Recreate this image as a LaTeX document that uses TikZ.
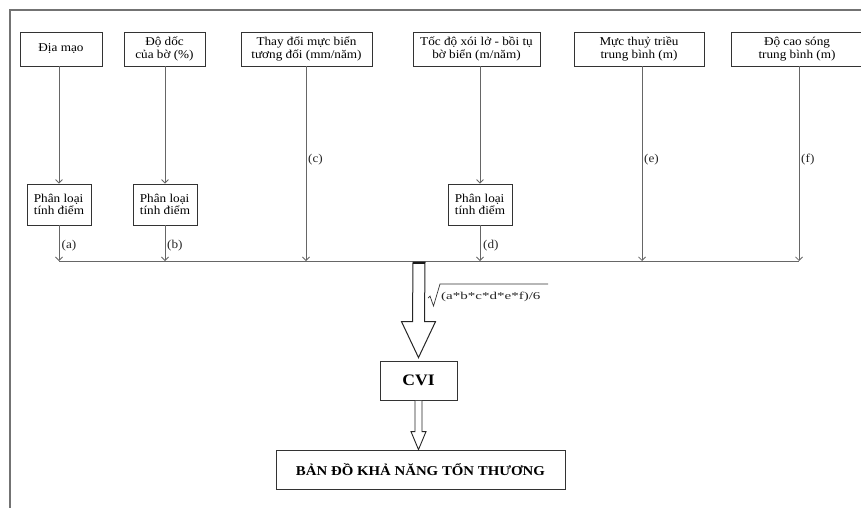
\documentclass[tikz,border=0pt]{standalone}
\usepackage{fontspec}
\setmainfont[FakeStretch=1.1]{Liberation Serif}
\usetikzlibrary{arrows.meta,calc}
\begin{document}
\begin{tikzpicture}[x=1pt,y=-1pt]
\tikzset{
 box/.style={draw=black!80, line width=0.8pt, fill=white, align=center, inner sep=2pt, font=\fontsize{12}{12.5}\selectfont},
 topbox/.style={box, minimum height=34pt},
 pbox/.style={box, align=left, minimum width=64pt, minimum height=41pt},
 conn/.style={draw=black!60, line width=0.8pt},
 arr/.style={conn, -{Straight Barb[length=3.5pt,width=7pt]}},
 lbl/.style={font=\fontsize{12}{12}\selectfont, inner sep=0pt, anchor=west, text=black!85},
 hollow/.style={draw=black!85, line width=1pt, fill=white, line join=miter},
 frameline/.style={draw=black!55, line width=1.5pt}
}
\useasboundingbox (0,0) rectangle (861,507);
\draw[frameline] (10,508) -- (10,10) -- (862,10);

% top boxes
\node[topbox, minimum width=82pt]  (t1) at (61,49)    {Địa mạo};
\node[topbox, minimum width=81pt]  (t2) at (164.5,49) {Độ dốc\\của bờ (\%)};
\node[topbox, minimum width=131pt] (t3) at (306.5,49) {Thay đổi mực biển\\tương đối (mm/năm)};
\node[topbox, minimum width=127pt] (t4) at (476.5,49) {Tốc độ xói lở - bồi tụ\\bờ biển (m/năm)};
\node[topbox, minimum width=130pt] (t5) at (639,49)   {Mực thuỷ triều\\trung bình (m)};
\node[topbox, minimum width=132pt] (t6) at (797,49)   {Độ cao sóng\\trung bình (m)};

% classification boxes
\node[pbox] (p1) at (59,204.5)  {Phân loại\\tính điểm};
\node[pbox] (p2) at (165,204.5) {Phân loại\\tính điểm};
\node[pbox] (p4) at (480,204.5) {Phân loại\\tính điểm};

% collector line points
\coordinate (h1) at (59,261);
\coordinate (h2) at (165,261);
\coordinate (h3) at (306,261);
\coordinate (h4) at (480,261);
\coordinate (h5) at (642,261);
\coordinate (h6) at (799,261);
\coordinate (hm) at (419,261);

\draw[arr] (t1.south -| p1) -- (p1);
\draw[arr] (t2.south -| p2) -- (p2);
\draw[arr] (t4.south -| p4) -- (p4);
\draw[arr] (p1) -- (h1);
\draw[arr] (p2) -- (h2);
\draw[arr] (p4) -- (h4);
\draw[arr] (t3.south -| h3) -- (h3);
\draw[arr] (t5.south -| h5) -- (h5);
\draw[arr] (t6.south -| h6) -- (h6);
\draw[conn] (h1) -- (h6);

% labels
\node[lbl] (la) at (61.5,246) {(a)};
\node[lbl] (lb) at (167,246) {(b)};
\node[lbl] (ld) at (483,246) {(d)};
\node[lbl] (lc) at (308,160) {(c)};
\node[lbl] (le) at (644,160) {(e)};
\node[lbl] (lf) at (801,160) {(f)};

% result boxes
\node[box, minimum width=77pt, minimum height=39pt, font=\bfseries\fontsize{16}{16}\selectfont] (cvi) at (418.5,380.5) {CVI};
\node[box, minimum width=289pt, minimum height=39pt, font=\bfseries\fontsize{13.5}{14}\selectfont] (map) at (420.5,469.5) {BẢN ĐỒ KHẢ NĂNG TỔN THƯƠNG};

% big hollow arrow
\draw[hollow] ($(hm)+(-6,1)$) -- ($(cvi.north)+(-6,-39)$) -- ($(cvi.north)+(-17,-39)$)
  -- ($(cvi.north)+(0,-3)$) -- ($(cvi.north)+(17,-39)$) -- ($(cvi.north)+(6,-39)$)
  -- ($(hm)+(6,1)$) -- cycle;
\draw[black!90, line width=2pt] ($(hm)+(-6,1.5)$) -- ($(hm)+(6,1.5)$);

% small hollow arrow
\draw[hollow, line width=0.9pt] ($(cvi.south)+(-3.5,0.5)$) -- ($(map.north)+(-5.5,-18)$) -- ($(map.north)+(-9.5,-18)$)
  -- ($(map.north)+(-2,0)$) -- ($(map.north)+(5.5,-18)$) -- ($(map.north)+(1.5,-18)$)
  -- ($(cvi.south)+(3.5,0.5)$);

% formula
\draw[black!80, line width=0.7pt] (428,298) -- (430,296) -- (433.5,306) -- (440,284) -- (548,284);
\node[inner sep=0pt, anchor=west, text=black!85] (fx) at (441,296.5)
  {\scalebox{1.3}[1]{\fontsize{10.5}{10.5}\selectfont (a*b*c*d*e*f)/6}};
\end{tikzpicture}
\end{document}
